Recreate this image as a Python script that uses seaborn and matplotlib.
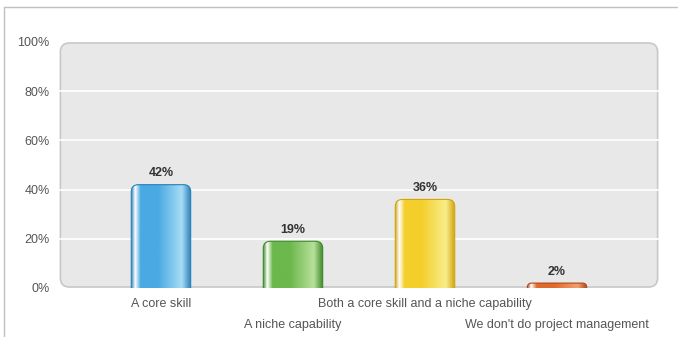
import matplotlib
matplotlib.use("Agg")
import matplotlib.pyplot as plt
import seaborn as sns
import numpy as np
import pandas as pd
from matplotlib.colors import LinearSegmentedColormap
from matplotlib.lines import Line2D
from matplotlib.patches import FancyBboxPatch

categories = ["A core skill", "A niche capability",
              "Both a core skill and a niche capability",
              "We don't do project management"]
values = [42, 19, 36, 2]
value_labels = ["42%", "19%", "36%", "2%"]
yticks = [0, 20, 40, 60, 80, 100]
ytick_labels = ["0%", "20%", "40%", "60%", "80%", "100%"]

bar_colors = ["#4aa9e2", "#6cb84c", "#f4cf2c", "#e06a2c"]
dark_edges = ["#2a7fb8", "#3f8a2a", "#d1a410", "#b0461a"]
light_cols = ["#a6dcf6", "#b8e09a", "#f8ee8a", "#f2a070"]

df = pd.DataFrame({"cat": categories, "val": values})

sns.set_style("white")
plt.rcParams["font.family"] = ["Liberation Sans", "DejaVu Sans"]

W, H = 678, 337
fig = plt.figure(figsize=(W / 100, H / 100), dpi=100)
ax_w_px, ax_h_px = 602, 246
ax = fig.add_axes([58 / W, 49 / H, ax_w_px / W, ax_h_px / H])

ax.set_facecolor("none")
bg = FancyBboxPatch((0.004, 0.004), 0.992, 0.992, boxstyle="round,pad=0,rounding_size=0.015",
                    transform=ax.transAxes, facecolor="#e8e8e8", edgecolor="#c8c8c8",
                    linewidth=1.2, zorder=0, mutation_aspect=ax_w_px / ax_h_px)
ax.add_patch(bg)

sns.barplot(data=df, x="cat", y="val", hue="cat", palette=bar_colors, legend=False,
            width=0.45, ax=ax, zorder=3, saturation=1)

xlim = (-0.78, 3.78)
ylim = (0, 100)
ax.set_xlim(*xlim)
ax.set_ylim(*ylim)
ax.set_yticks(yticks)
ax.set_yticklabels(ytick_labels, color="#555555", fontsize=9)
for y in yticks[1:-1]:
    ax.axhline(y, color="white", linewidth=1.2, zorder=1)

px_per_x = ax_w_px / (xlim[1] - xlim[0])
px_per_y = ax_h_px / (ylim[1] - ylim[0])
rad_px = 7
rad_x = rad_px / px_per_x
aspect = px_per_x / px_per_y  # y-units per x-unit at equal pixels

bars = [p for p in ax.patches if p is not bg]
for i, p in enumerate(bars):
    x0, w, h = p.get_x(), p.get_width(), p.get_height()
    p.set_visible(False)
    r = min(rad_x, (h * px_per_y * 0.9) / px_per_x)
    shape = FancyBboxPatch((x0, -10), w, h + 10,
                           boxstyle=f"round,pad=0,rounding_size={r}",
                           mutation_aspect=aspect, facecolor="none",
                           edgecolor=dark_edges[i], linewidth=0.8, zorder=3)
    ax.add_patch(shape)
    cmap = LinearSegmentedColormap.from_list(
        f"g{i}", [(0, dark_edges[i]), (0.07, "#ffffff"), (0.16, bar_colors[i]),
                  (0.45, bar_colors[i]), (0.85, light_cols[i]), (1.0, dark_edges[i])])
    grad = np.linspace(0, 1, 256).reshape(1, -1)
    im = ax.imshow(grad, cmap=cmap, extent=(x0, x0 + w, 0, h), aspect="auto", zorder=2.5)
    im.set_clip_path(shape)
    ax.text(x0 + w / 2, h + 2.2, value_labels[i], ha="center", va="bottom",
            fontsize=9, fontweight="bold", color="#333333", zorder=4)

ax.set_aspect("auto")
ax.set_xlim(*xlim)
ax.set_ylim(*ylim)

ax.set_xticks(range(len(categories)))
ax.set_xticklabels([])
for i, c in enumerate(categories):
    off = -0.065 if i % 2 == 0 else -0.15
    ax.text(i, off, c, transform=ax.get_xaxis_transform(), ha="center", va="center",
            fontsize=9, color="#555555")

ax.set_xlabel("")
ax.set_ylabel("")
ax.tick_params(axis="both", length=0, pad=6)
for s in ax.spines.values():
    s.set_visible(False)

# outer frame lines
fig.add_artist(Line2D([4 / W, 1], [1 - 7 / H, 1 - 7 / H], transform=fig.transFigure,
                      color="#c0c0c0", linewidth=1))
fig.add_artist(Line2D([4 / W, 4 / W], [0, 1 - 7 / H], transform=fig.transFigure,
                      color="#c0c0c0", linewidth=1))

fig.savefig("out.png", dpi=100)
